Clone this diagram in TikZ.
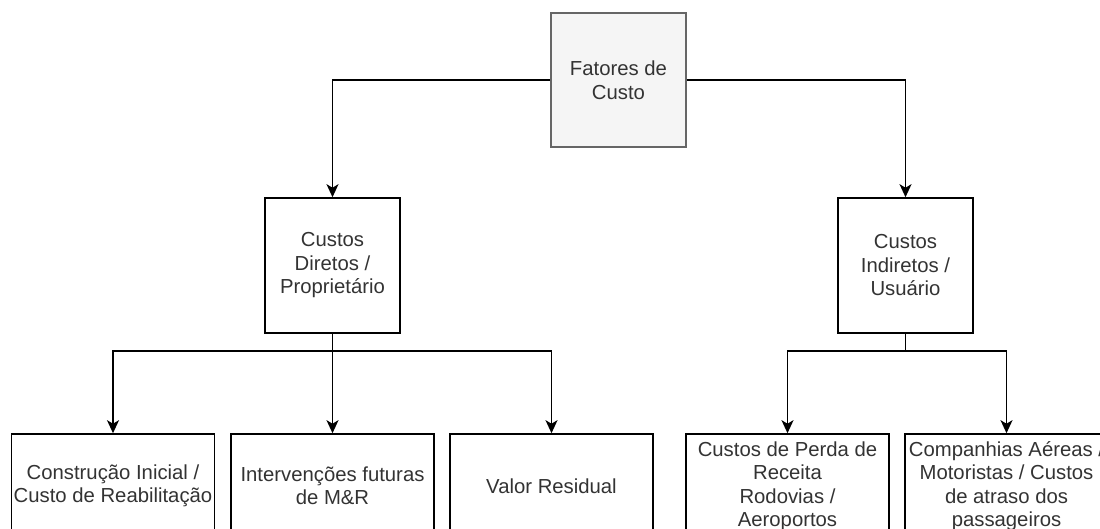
\documentclass[tikz,border=0pt]{standalone}
\usepackage{fontspec}
\setmainfont{Liberation Sans}
\usetikzlibrary{arrows.meta}
\definecolor{txt}{HTML}{333333}
\definecolor{rootfill}{HTML}{F5F5F5}
\definecolor{rootline}{HTML}{666666}
\tikzset{
  box/.style={draw=black, line width=1.6pt, fill=white, inner sep=0pt,
    align=center, text=txt, font=\fontsize{20.3}{23.5}\selectfont},
  rootbox/.style={box, draw=rootline, fill=rootfill,
    minimum width=135pt, minimum height=134pt},
  midbox/.style={box, minimum width=135pt, minimum height=135pt},
  leafbox/.style={box, minimum width=203pt, minimum height=104pt},
  conn/.style={draw=black, line width=1.5pt,
    -{Stealth[length=13pt, width=12pt, inset=3.5pt]}}
}
\begin{document}
\begin{tikzpicture}[x=1pt, y=-1pt]
  \useasboundingbox (0,0) rectangle (1100,529);
  \clip (0,0) rectangle (1100,529);

  % top level
  \node[rootbox] (root) at (618.5,80) {Fatores de\\Custo};

  % second level
  \node[midbox] (direct) at (332.5,265.5) {Custos\\Diretos /\\Proprietário};
  \node[midbox] (indirect) at (905.5,265.5) {Custos\\Indiretos /\\Usuário};

  % leaves
  \node[leafbox] (c1) at (113,486) {Construção Inicial /\\Custo de Reabilitação};
  \node[leafbox] (c2) at (332.5,486) {Intervenções futuras\\de M\&R};
  \node[leafbox] (c3) at (551.5,486) {Valor Residual};
  \node[leafbox] (c4) at (787.5,486) {Custos de Perda de\\Receita\\Rodovias /\\Aeroportos};
  \node[leafbox] (c5) at (1006.5,486) {Companhias Aéreas /\\Motoristas / Custos\\de atraso dos\\passageiros};

  % connectors
  \draw[conn] (root.west) -| (direct.north);
  \draw[conn] (root.east) -| (indirect.north);

  \draw[conn] (direct.south) -- ++(0,17) -| (c1.north);
  \draw[conn] (direct.south) -- (c2.north);
  \draw[conn] (direct.south) -- ++(0,17) -| (c3.north);

  \draw[conn] (indirect.south) -- ++(0,17) -| (c4.north);
  \draw[conn] (indirect.south) -- ++(0,17) -| (c5.north);
\end{tikzpicture}
\end{document}
